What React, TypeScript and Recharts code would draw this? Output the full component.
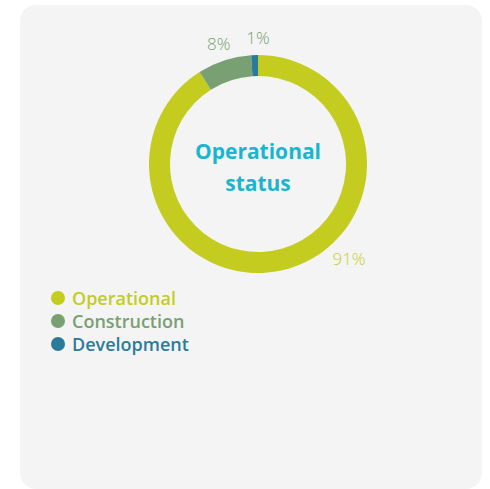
import { PieChart, Pie, Cell } from 'recharts';

const categories = ['Operational', 'Construction', 'Development'];
const shares = [91, 8, 1];
const colors = ['#c3cc1f', '#78a072', '#2a7b9a'];
const labelColors = ['#c6ce2e', '#78a072', '#78a072'];

const chartData = categories.map((name, i) => ({ name, value: shares[i] }));

const FONT = '"Open Sans", "DejaVu Sans", sans-serif';

// label angles that differ from the slice middle in the original
const labelAngleOverride: Record<number, number> = { 0: -46, 2: 90 };

const RADIAN = Math.PI / 180;

function renderLabel(props: any) {
  const { cx, cy, midAngle, outerRadius, index, value } = props;
  const angle = labelAngleOverride[index] ?? midAngle;
  const r = outerRadius + (index === 0 ? 22 : 18);
  const x = cx + r * Math.cos(-angle * RADIAN);
  const y = cy + r * Math.sin(-angle * RADIAN);
  return (
    <text
      x={x}
      y={y}
      fill={labelColors[index]}
      textAnchor="middle"
      dominantBaseline="central"
      fontFamily={FONT}
      fontWeight={300}
      fontSize={17}
    >
      {`${value}%`}
    </text>
  );
}

function LegendList() {
  return (
    <div style={{ fontFamily: FONT, position: 'absolute', left: 31, top: 281 }}>
      {categories.map((name, i) => (
        <div key={name} style={{ display: 'flex', alignItems: 'center', height: 23 }}>
          <span
            style={{
              width: 14,
              height: 14,
              borderRadius: '50%',
              background: colors[i],
              display: 'inline-block',
              marginRight: 7,
            }}
          />
          <span style={{ color: colors[i], fontSize: 18, fontWeight: 600 }}>{name}</span>
        </div>
      ))}
    </div>
  );
}

export default function App() {
  return (
    <div
      style={{
        position: 'absolute',
        left: 20,
        top: 5,
        width: 462,
        height: 484,
        borderRadius: 16,
        background: '#f4f4f4',
      }}
    >
      <PieChart width={462} height={300} margin={{ top: 0, right: 0, bottom: 0, left: 0 }}>
        <Pie
          data={chartData}
          dataKey="value"
          nameKey="name"
          cx={238}
          cy={159}
          innerRadius={88}
          outerRadius={109}
          startAngle={90}
          endAngle={-270}
          stroke="none"
          label={renderLabel}
          labelLine={false}
          isAnimationActive={false}
        >
          {chartData.map((entry, index) => (
            <Cell key={`cell-${index}`} fill={colors[index]} />
          ))}
        </Pie>
        <text
          x={238}
          y={146}
          textAnchor="middle"
          dominantBaseline="central"
          fill="#19b6cf"
          fontFamily={FONT}
          fontWeight={700}
          fontSize={21}
        >
          Operational
        </text>
        <text
          x={238}
          y={178}
          textAnchor="middle"
          dominantBaseline="central"
          fill="#19b6cf"
          fontFamily={FONT}
          fontWeight={700}
          fontSize={21}
        >
          status
        </text>
      </PieChart>
      <LegendList />
    </div>
  );
}
